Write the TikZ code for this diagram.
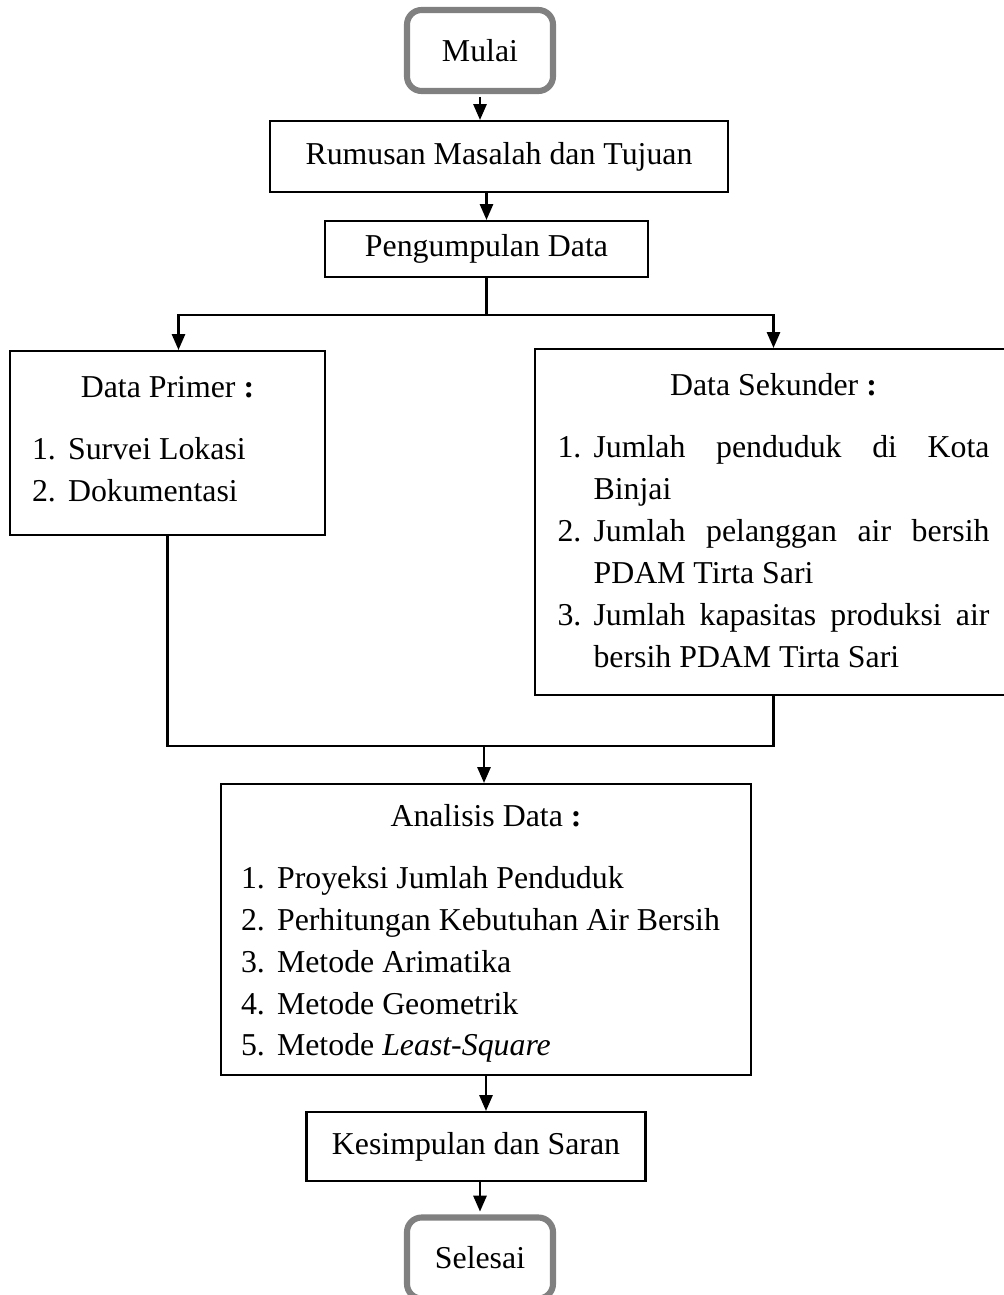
\documentclass[tikz,border=0pt]{standalone}
\usepackage{fontspec}
\setmainfont{Liberation Serif}
\usepackage{xcolor}
\definecolor{termgray}{RGB}{128,128,128}
\usetikzlibrary{arrows.meta, positioning}
\newcommand{\pu}{0.377pt}
\newcommand{\mainsize}{\fontsize{12}{15.8}\selectfont\hyphenpenalty=10000\exhyphenpenalty=10000}
\newcommand{\boxtitle}[1]{\noindent\makebox[\hsize]{#1}\par\vspace{7.6pt}}
\newcommand{\itm}[2]{\par\hangindent=13.6pt\hangafter=1\noindent\makebox[13.6pt][l]{#1}#2\par}
% extra room under a list (kept by a zero rule)
\newcommand{\boxfoot}[1]{\vspace{#1}\hrule height 0pt width 0pt}
\tikzset{
  termbox/.style={draw=termgray, line width=2.3pt, rounded corners=5.5pt,
    minimum width=146*\pu, minimum height=81*\pu, font=\mainsize},
  stepbox/.style={draw, line width=0.8pt, font=\mainsize},
  listbox/.style={draw, line width=0.8pt, align=justify, font=\mainsize},
  flowarrow/.style={-{Triangle[length=6pt,width=5pt]}, line width=0.8pt},
  flowline/.style={line width=0.8pt}
}

\begin{document}
\begin{tikzpicture}[x=0.377pt, y=-0.377pt]
  \useasboundingbox (0,0) rectangle (1003,1295);

  \node[termbox] (mulai) at (480,50.5) {Mulai};
  \node[stepbox, minimum width=458*\pu, minimum height=71*\pu] (rumusan) at (499,156.5)
    {Rumusan Masalah dan Tujuan};
  \node[stepbox, minimum width=323*\pu, minimum height=56*\pu] (kumpul) at (486.5,249)
    {Pengumpulan Data};

  % Data boxes
  \node[listbox, minimum width=315*\pu, minimum height=184*\pu, text width=271*\pu]
    (primer) at (167.5,443) {%
      \boxtitle{Data Primer \textbf{:}}%
      \itm{1.}{Survei Lokasi}
      \itm{2.}{Dokumentasi}
      \boxfoot{3pt}};
  \node[listbox, minimum width=477*\pu, minimum height=346*\pu, text width=432*\pu]
    (sekunder) at (773.5,522) {%
      \boxtitle{Data Sekunder \textbf{:}}%
      \itm{1.}{Jumlah penduduk di Kota Binjai}
      \itm{2.}{Jumlah pelanggan air bersih PDAM Tirta Sari}
      \itm{3.}{Jumlah kapasitas produksi air bersih PDAM Tirta Sari}
      \boxfoot{1pt}};

  \node[listbox, minimum width=530*\pu, minimum height=291*\pu, text width=490*\pu]
    (analisis) at (486,929.5) {%
      \boxtitle{Analisis Data \textbf{:}}%
      \itm{1.}{Proyeksi Jumlah Penduduk}
      \itm{2.}{Perhitungan Kebutuhan Air Bersih}
      \itm{3.}{Metode Arimatika}
      \itm{4.}{Metode Geometrik}
      \itm{5.}{Metode \textit{Least-Square}}
      \boxfoot{-3pt}};

  \node[stepbox, minimum width=339*\pu, minimum height=69*\pu] (simpul) at (476,1146.5)
    {Kesimpulan dan Saran};
  \node[termbox] (selesai) at (480,1258) {Selesai};

  % Main flow
  \draw[flowarrow, shorten <=1.1pt] (mulai.south) -- (mulai.south |- rumusan.north);
  \draw[flowarrow] (kumpul.north |- rumusan.south) -- (kumpul.north);

  % Split to both data boxes
  \coordinate (split) at (486.5,315);
  \draw[flowline] (kumpul.south) -- (split);
  \draw[flowarrow] (split) -| ([xshift=11*\pu]primer.north);
  \draw[flowarrow] (split) -| (sekunder.north);

  % Join back into analysis
  \coordinate (merge) at (484,746);
  \draw[flowline] (primer.south) |- (merge) -| (sekunder.south);
  \draw[flowarrow] (merge) -- (merge |- analisis.north);

  \draw[flowarrow] (analisis.south) -- (analisis.south |- simpul.north);
  \draw[flowarrow, shorten >=1.1pt] (selesai.north |- simpul.south) -- (selesai.north);

\end{tikzpicture}
\end{document}
